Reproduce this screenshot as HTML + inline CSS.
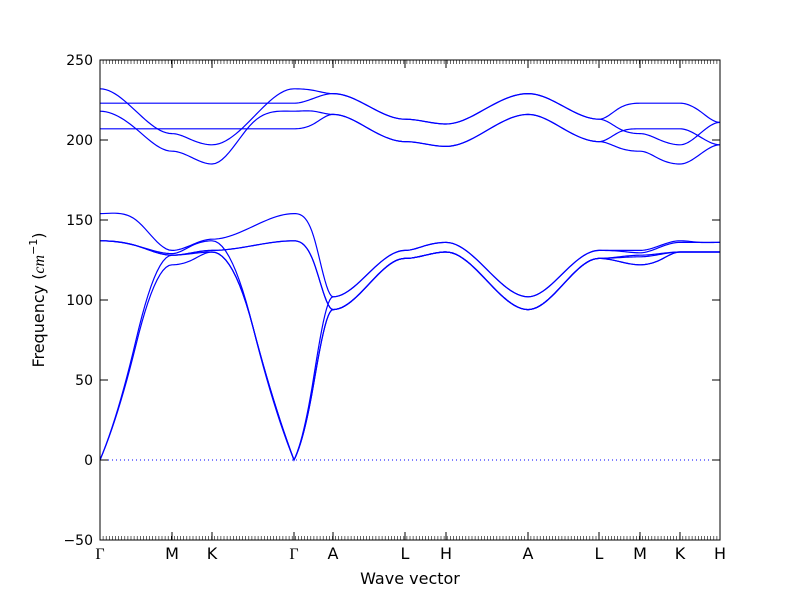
<!DOCTYPE html>
<html><head><meta charset="utf-8"><style>
body{margin:0;background:#fff}
svg{display:block;font-family:"DejaVu Sans","Liberation Sans",sans-serif}
</style></head><body>
<svg id="chart" width="800" height="600" viewBox="0 0 800 600">
<rect x="0" y="0" width="800" height="600" fill="#fff"/>
<g id="plot"></g>
<g id="axes"></g>
<text x="410" y="584" font-size="16" text-anchor="middle">Wave vector</text>
<text transform="translate(44,300) rotate(-90)" font-size="16" text-anchor="middle">Frequency (<tspan font-style="italic" font-family="Liberation Serif, serif">cm</tspan><tspan font-size="11" dy="-7">−1</tspan><tspan dy="7">)</tspan></text>
</svg>
<script>
const qTicks=[0,72,112,194,233,305,346,428,499,540,580,620];
const qLabels=["Γ","M","K","Γ","A","L","H","A","L","M","K","H"];
const yTicks=[-50,0,50,100,150,200,250];
// band values at: node, midpoint, node, midpoint, ... (23 values each)
const bandU1=[232,218,204,200,197,214,232,231,229,221,213,211.5,210,220,229,221,213,220,223,223,223,218,211];
const bandU2=[223,223,223,223,223,223,223,226,229,221,213,211.5,210,220,229,221,213,207,204,200,197,204,211];
const bandU3=[218,207,193,189,185,211,218,218,216,207,199,197.5,196,206,216,207,199,205,207,207,207,202,197];
const bandU4=[207,207,207,207,207,207,207,210,216,207,199,197.5,196,206,216,207,199,195,193,188,185,191,197];
const bandL1=[154,150,131,134.5,138,146,154,140,102,117,131,134,136,119,102,117,131,131,131,134,137,136,136];
const bandL2=[137,134,129,134,137,83,0,51,102,117,131,134,136,119,102,117,131,130.5,129.5,133,136,136,136];
const bandL3=[137,134,128,129.5,131,134,137,124,94,110,126,128,130,112,94,110,126,127,128,129,130,130,130];
const bandL4=[137,134,128,129.5,131,134,137,124,94,110,126,128,130,112,94,110,126,126.5,127,128.5,130,130,130];
const bandL5=[0,72,122,125,130,83,0,47,94,110,126,128,130,112,94,110,126,124,122,125,130,130,130];
const bandL6=[0,75,128,129,130,83,0,47,94,110,126,128,130,112,94,110,126,124,122,125,130,130,130];
const bands=[bandU1,bandU2,bandU3,bandU4,bandL1,bandL2,bandL3,bandL4,bandL5,bandL6];

const X0=100,X1=720,Y0=540,Y1=60,QMAX=620,FMIN=-50,FMAX=250;
const xs=q=>X0+(q/QMAX)*(X1-X0);
const ys=f=>Y0-(f-FMIN)/(FMAX-FMIN)*(Y0-Y1);
const NS="http://www.w3.org/2000/svg";
const plot=document.getElementById('plot'),axes=document.getElementById('axes');
function mk(tag,attrs,parent){const e=document.createElementNS(NS,tag);for(const k in attrs)e.setAttribute(k,attrs[k]);parent.appendChild(e);return e;}

const zl=mk('line',{x1:X0,x2:X1,y1:ys(0),y2:ys(0),stroke:'#0000ff','stroke-width':1,'stroke-dasharray':'1,3'},plot);



bands.forEach((b,bi)=>{
  let d='';
  for(let s=0;s<qTicks.length-1;s++){
    const qa=qTicks[s],qb=qTicks[s+1];
    const p0=b[2*s],p1=b[2*s+1],p2=b[2*s+2];
    const m1=(p2-p0)*0.75;
    const m0=(p0===0)?(2*(p1-p0)-m1):0;
    const m2=(p2===0)?(2*(p2-p1)-m1):0;
    const N=24;
    for(let i=0;i<=N;i++){
      const t=i/N*2;let u,pa,pb,ma,mb;
      if(t<=1){u=t;pa=p0;pb=p1;ma=m0;mb=m1;}else{u=t-1;pa=p1;pb=p2;ma=m1;mb=m2;}
      const h00=2*u*u*u-3*u*u+1,h10=u*u*u-2*u*u+u,h01=-2*u*u*u+3*u*u,h11=u*u*u-u*u;
      const v=h00*pa+h10*ma+h01*pb+h11*mb;
      const q=qa+(qb-qa)*t/2;
      d+=(s===0&&i===0?'M':'L')+xs(q).toFixed(2)+','+ys(v).toFixed(2);
    }
  }
  const p=mk('path',{d:d,fill:'none',stroke:'#0000ff','stroke-width':1.2},plot);
  
  
});

const fr=mk('rect',{x:X0,y:Y1,width:X1-X0,height:Y0-Y1,fill:'none',stroke:'#000','stroke-width':1},axes);


let md='';
for(let x=X0;x<=X1+0.1;x+=3.1){md+='M'+x.toFixed(1)+','+Y0+'v-4M'+x.toFixed(1)+','+Y1+'v4';}
const mt=mk('path',{d:md,stroke:'#000','stroke-width':0.6,fill:'none'},axes);


yTicks.forEach(v=>{
  const y=ys(v);
  const t=mk('path',{d:'M'+X0+','+y+'h8M'+X1+','+y+'h-8',stroke:'#000','stroke-width':1},axes);
  
  
  const l=mk('text',{x:X0-7,y:y+5,'font-size':14,'text-anchor':'end'},axes);
  l.textContent=(v<0?'\u2212'+(-v):String(v));
  
  
});
qTicks.forEach((q,i)=>{
  const x=xs(q);
  const t=mk('path',{d:'M'+x+','+Y0+'v-8M'+x+','+Y1+'v8',stroke:'#000','stroke-width':1},axes);
  
  
  const l=mk('text',{x:x,y:Y0+19,'font-size':16,'text-anchor':'middle'},axes);
  if(qLabels[i]==='Γ')l.setAttribute('font-family','Liberation Serif, serif');
  l.textContent=qLabels[i];
  
  
});
</script>
</body></html>
